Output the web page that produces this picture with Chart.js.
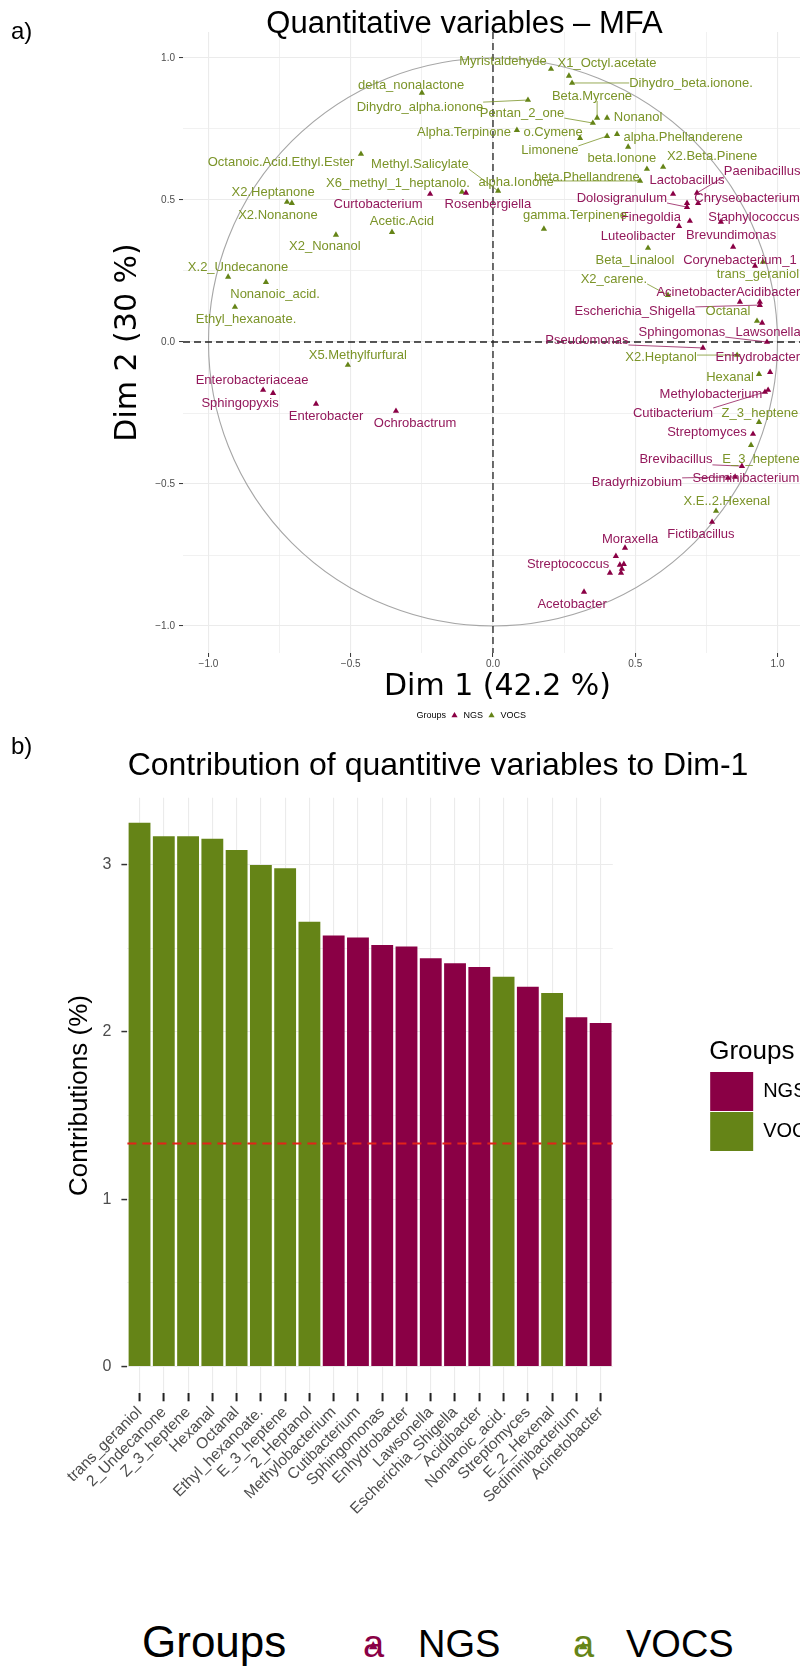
<!DOCTYPE html>
<html>
<head>
<meta charset="utf-8">
<script src="https://cdn.jsdelivr.net/npm/chart.js@4.4.1/dist/chart.umd.min.js"></script>
<style>
  html, body { margin:0; padding:0; background:#ffffff; }
  body { width:800px; height:1673px; overflow:hidden; position:relative; }
  canvas { position:absolute; left:0; }
  #cA { top:0; }
  #cB { top:740px; }
  .tag { position:absolute; left:11px; font-family:"Liberation Sans", Arial, sans-serif; font-size:24px; line-height:24px; color:#000; }
  .big { position:absolute; top:1625px; font-family:"Liberation Sans", Arial, sans-serif; font-size:38px; line-height:38px; color:#000; white-space:nowrap; }
  .tri { position:absolute; font-family:"DejaVu Sans", sans-serif; font-size:11px; line-height:11px; }
</style>
</head>
<body>
<canvas id="cA" width="929" height="730"></canvas>
<canvas id="cB" width="876" height="860"></canvas>
<div class="tag" style="top:19px">a)</div>
<div class="tag" style="top:734px">b)</div>
<div class="big" style="left:142px;top:1620px;font-size:44px;line-height:44px">Groups</div>
<div class="big" style="left:363px;color:#8A0045">a</div>
<div class="tri" style="left:369px;top:1639px;color:#8A0045">▲</div>
<div class="big" style="left:418px">NGS</div>
<div class="big" style="left:573px;color:#658417">a</div>
<div class="tri" style="left:579px;top:1639px;color:#658417">▲</div>
<div class="big" style="left:626px">VOCS</div>

<script>
// ---------------- DATA ----------------
// Panel a) : variable coordinates on Dim 1 / Dim 2 (MFA correlation circle)
const vocsNames = ['delta_nonalactone','Dihydro_alpha.ionone','Myristaldehyde','X1_Octyl.acetate','Dihydro_beta.ionone.','Beta.Myrcene','Pentan_2_one','Nonanol','Alpha.Terpinone','o.Cymene','Limonene','alpha.Phellanderene','beta.Ionone','X2.Beta.Pinene','beta.Phellandrene','Octanoic.Acid.Ethyl.Ester','Methyl.Salicylate','X6_methyl_1_heptanolo.','alpha.Ionone','X2.Heptanone','X2.Nonanone','Acetic.Acid','X2_Nonanol','gamma.Terpinene','Beta_Linalool','X.2_Undecanone','Nonanoic_acid.','Ethyl_hexanoate.','X2_carene.','trans_geraniol','Octanal','X5.Methylfurfural','X2.Heptanol','Hexanal','Z_3_heptene','E_3_heptene','X.E..2.Hexenal'];
const vocsDim1 = [-0.250,0.123,0.204,0.267,0.278,0.366,0.351,0.401,0.084,0.306,0.401,0.436,0.475,0.598,0.541,-0.464,0.018,-0.109,0.517,-0.724,-0.707,-0.355,-0.552,0.179,0.545,-0.931,-0.798,-0.907,0.615,0.949,0.928,-0.510,0.858,0.935,0.935,0.907,0.784];
const vocsDim2 = [0.877,0.852,0.961,0.937,0.912,0.789,0.771,0.789,0.746,0.718,0.725,0.732,0.687,0.616,0.609,0.662,0.532,0.528,0.567,0.493,0.489,0.387,0.377,0.398,0.331,0.229,0.211,0.123,0.165,0.282,0.074,-0.081,-0.046,-0.113,-0.282,-0.363,-0.595];
// repelled label anchors (data units)
const vocsLabelX = [-0.288,-0.257,0.035,0.401,0.696,0.348,0.102,0.510,-0.102,0.211,0.200,0.668,0.453,0.770,0.330,-0.745,-0.257,-0.334,0.081,-0.773,-0.756,-0.320,-0.591,0.288,0.499,-0.896,-0.766,-0.868,0.425,0.931,0.826,-0.475,0.591,0.833,0.938,0.942,0.822];
const vocsLabelY = [0.905,0.827,0.989,0.982,0.912,0.866,0.806,0.789,0.739,0.739,0.673,0.722,0.648,0.655,0.581,0.634,0.627,0.560,0.563,0.525,0.444,0.423,0.335,0.444,0.289,0.261,0.169,0.081,0.222,0.239,0.106,-0.046,-0.056,-0.123,-0.250,-0.415,-0.563];

const ngsNames = ['Curtobacterium','Rosenbergiella','Lactobacillus','Paenibacillus','Dolosigranulum','Chryseobacterium','Finegoldia','Staphylococcus','Luteolibacter','Brevundimonas','Corynebacterium_1','Acinetobacter','Acidibacter','Escherichia_Shigella','Sphingomonas','Lawsonella','Pseudomonas','Enhydrobacter','Methylobacterium','Cutibacterium','Streptomyces','Brevibacillus','Sediminibacterium','Bradyrhizobium','Fictibacillus','Moraxella','Streptococcus','Acetobacter','Enterobacteriaceae','Sphingopyxis','Enterobacter','Ochrobactrum','','','','','',''];
const ngsDim1 = [-0.221,-0.095,0.633,0.717,0.682,0.721,0.692,0.801,0.654,0.844,0.921,0.868,0.938,0.938,0.963,0.946,0.738,0.974,0.967,0.956,0.914,0.875,0.826,0.851,0.770,0.464,0.432,0.320,-0.808,-0.773,-0.622,-0.341,0.682,0.446,0.460,0.453,0.411,0.450];
const ngsDim2 = [0.521,0.525,0.521,0.525,0.475,0.489,0.426,0.423,0.408,0.335,0.268,0.141,0.141,0.130,0.000,0.067,-0.021,-0.106,-0.169,-0.176,-0.324,-0.437,-0.479,-0.475,-0.634,-0.725,-0.754,-0.880,-0.169,-0.180,-0.218,-0.243,0.489,-0.785,-0.782,-0.799,-0.813,-0.813];
const ngsLabelX = [-0.404,-0.018,0.682,0.946,0.453,0.893,0.555,0.917,0.510,0.837,0.868,0.714,0.967,0.499,0.664,0.967,0.330,0.931,0.766,0.633,0.752,0.643,0.889,0.506,0.731,0.482,0.264,0.278,-0.847,-0.889,-0.587,-0.274,null,null,null,null,null,null];
const ngsLabelY = [0.486,0.486,0.570,0.599,0.507,0.507,0.440,0.440,0.370,0.377,0.289,0.173,0.173,0.106,0.035,0.035,0.007,-0.056,-0.183,-0.250,-0.317,-0.415,-0.479,-0.496,-0.676,-0.694,-0.782,-0.923,-0.137,-0.218,-0.261,-0.285,null,null,null,null,null,null];

const dimTicks = [-1,-0.75,-0.5,-0.25,0,0.25,0.5,0.75,1];

// Panel b) : contributions to Dim-1
const contribLabels = ['trans_geraniol','2_Undecanone','Z_3_heptene','Hexanal','Octanal','Ethyl_hexanoate.','E_3_heptene','2_Heptanol','Methylobacterium','Cutibacterium','Sphingomonas','Enhydrobacter','Lawsonella','Escherichia_Shigella','Acidibacter','Nonanoic_acid.','Streptomyces','E_2_Hexenal','Sediminibacterium','Acinetobacter'];
const contribValues = [3.25,3.17,3.17,3.155,3.087,2.998,2.978,2.659,2.577,2.565,2.519,2.511,2.44,2.41,2.388,2.33,2.27,2.232,2.087,2.053];
const contribGroups = ['VOCS','VOCS','VOCS','VOCS','VOCS','VOCS','VOCS','VOCS','NGS','NGS','NGS','NGS','NGS','NGS','NGS','VOCS','NGS','VOCS','NGS','NGS'];
const contribTicks = [0,0.5,1,1.5,2,2.5,3];
const expectedContrib = 1.333;

// ---------------- STYLE ----------------
const FONT = '"Liberation Sans", Arial, sans-serif';
const NGS_COLOR = '#8A0045';
const VOCS_COLOR = '#658417';
const NGS_TEXT = '#93185b';
const VOCS_TEXT = '#7b9428';
const GRID = '#ebebeb';
const LABEL_FONT = '13px ' + FONT;

Chart.defaults.font.family = FONT;

const isHalf = v => Math.abs(v * 2 - Math.round(v * 2)) < 1e-6;
const isInt = v => Math.abs(v - Math.round(v)) < 1e-6;
const fmtDim = v => (v < -1e-9 ? '\u2212' : '') + Math.abs(v).toFixed(1);

function labelBoxes(chart) {
  const xs = chart.scales.x, ys = chart.scales.y, ctx = chart.ctx;
  ctx.save();
  ctx.font = LABEL_FONT;
  const out = [];
  [[ngsNames, ngsDim1, ngsDim2, ngsLabelX, ngsLabelY, NGS_TEXT],
   [vocsNames, vocsDim1, vocsDim2, vocsLabelX, vocsLabelY, VOCS_TEXT]].forEach(([names, d1, d2, lx, ly, col]) => {
    names.forEach((name, i) => {
      if (!name || lx[i] === null) return;
      out.push({
        name, col,
        px: xs.getPixelForValue(d1[i]), py: ys.getPixelForValue(d2[i]),
        cx: xs.getPixelForValue(lx[i]), cy: ys.getPixelForValue(ly[i]),
        w: ctx.measureText(name).width
      });
    });
  });
  ctx.restore();
  return out;
}

const mfaPlugin = {
  id: 'mfaDecor',
  beforeDatasetsDraw(chart) {
    const {ctx, chartArea: a, scales: {x, y}} = chart;
    ctx.save();
    ctx.beginPath();
    ctx.rect(a.left, a.top, a.right - a.left, a.bottom - a.top);
    ctx.clip();
    const cx = x.getPixelForValue(0), cy = y.getPixelForValue(0);
    const rx = x.getPixelForValue(1) - cx, ry = cy - y.getPixelForValue(1);
    ctx.strokeStyle = '#a6a6a6';
    ctx.lineWidth = 1.1;
    ctx.beginPath();
    ctx.ellipse(cx, cy, rx, ry, 0, 0, Math.PI * 2);
    ctx.stroke();
    ctx.setLineDash([7, 4]);
    ctx.strokeStyle = '#222';
    ctx.lineWidth = 1.3;
    ctx.beginPath();
    ctx.moveTo(a.left, cy); ctx.lineTo(a.right, cy);
    ctx.moveTo(cx, a.top); ctx.lineTo(cx, a.bottom);
    ctx.stroke();
    ctx.restore();
    // repel segments
    ctx.save();
    labelBoxes(chart).forEach(b => {
      const l = b.cx - b.w / 2, r = b.cx + b.w / 2, t = b.cy - 5, bo = b.cy + 5;
      const nx = Math.min(Math.max(b.px, l), r), ny = Math.min(Math.max(b.py, t), bo);
      if (Math.hypot(b.px - nx, b.py - ny) > 11) {
        ctx.strokeStyle = b.col;
        ctx.lineWidth = 0.8;
        ctx.beginPath();
        ctx.moveTo(nx, ny);
        ctx.lineTo(b.px, b.py);
        ctx.stroke();
      }
    });
    ctx.restore();
  },
  afterDatasetsDraw(chart) {
    const ctx = chart.ctx;
    ctx.save();
    ctx.font = LABEL_FONT;
    ctx.textAlign = 'center';
    ctx.textBaseline = 'middle';
    labelBoxes(chart).forEach(b => {
      ctx.fillStyle = b.col;
      ctx.fillText(b.name, b.cx, b.cy);
    });
    ctx.restore();
  }
};

const triPoints = (d1, d2) => d1.map((v, i) => ({x: v, y: d2[i]}));
const hiddenSpacer = (width, weight) => ({
  type: 'linear', position: 'right', min: 0, max: 1, display: true, weight,
  afterFit: s => { s.width = width; },
  border: {display: false},
  grid: {display: false, drawTicks: false},
  ticks: {display: false}
});

new Chart(document.getElementById('cA'), {
  type: 'scatter',
  data: {
    datasets: [
      {label: 'NGS', data: triPoints(ngsDim1, ngsDim2), pointStyle: 'triangle', pointRadius: 3.6, pointHoverRadius: 3.6,
       backgroundColor: NGS_COLOR, borderColor: NGS_COLOR, borderWidth: 0},
      {label: 'VOCS', data: triPoints(vocsDim1, vocsDim2), pointStyle: 'triangle', pointRadius: 3.6, pointHoverRadius: 3.6,
       backgroundColor: VOCS_COLOR, borderColor: VOCS_COLOR, borderWidth: 0}
    ]
  },
  options: {
    responsive: false, animation: false, events: [],
    layout: {padding: 0},
    plugins: {
      tooltip: {enabled: false},
      title: {display: true, text: 'Quantitative variables \u2013 MFA', color: '#000',
              font: {family: FONT, size: 31, weight: 'normal'}, padding: {top: 6, bottom: -11.2}},
      legend: {
        display: true, position: 'bottom',
        labels: {
          usePointStyle: true, boxHeight: 5, padding: 4, color: '#222',
          font: {family: FONT, size: 9},
          generateLabels: () => [
            {text: 'Groups', fillStyle: 'rgba(0,0,0,0)', strokeStyle: 'rgba(0,0,0,0)', lineWidth: 0, pointStyle: 'triangle', hidden: false},
            {text: 'NGS', fillStyle: NGS_COLOR, strokeStyle: NGS_COLOR, lineWidth: 0, pointStyle: 'triangle', hidden: false, datasetIndex: 0},
            {text: 'VOCS', fillStyle: VOCS_COLOR, strokeStyle: VOCS_COLOR, lineWidth: 0, pointStyle: 'triangle', hidden: false, datasetIndex: 1}
          ]
        }
      }
    },
    scales: {
      x: {
        type: 'linear', min: -1.0896, max: 1.1213,
        afterBuildTicks: s => { s.ticks = dimTicks.map(v => ({value: v})); },
        afterFit: s => { s.height = 54; },
        border: {display: false},
        grid: {color: GRID, lineWidth: c => isHalf(c.tick.value) ? 1.1 : 0.7, drawTicks: true, tickLength: 4,
               tickWidth: 1, tickColor: c => isHalf(c.tick.value) ? '#333' : 'rgba(0,0,0,0)'},
        ticks: {autoSkip: false, maxRotation: 0, padding: 1, color: '#4d4d4d', font: {family: FONT, size: 10},
                callback: v => isHalf(v) ? fmtDim(v) : ''},
        title: {display: true, text: 'Dim 1 (42.2 %)', color: '#000', font: {family: '"DejaVu Sans", sans-serif', size: 30},
                padding: {top: 0, bottom: 2}}
      },
      y: {
        type: 'linear', min: -1.095, max: 1.0915,
        afterBuildTicks: s => { s.ticks = dimTicks.map(v => ({value: v})); },
        afterFit: s => { s.width = 183; },
        border: {display: false},
        grid: {color: GRID, lineWidth: c => isHalf(c.tick.value) ? 1.1 : 0.7, drawTicks: true, tickLength: 4,
               tickWidth: 1, tickColor: c => isHalf(c.tick.value) ? '#333' : 'rgba(0,0,0,0)'},
        ticks: {autoSkip: false, padding: 4, color: '#4d4d4d', font: {family: FONT, size: 10},
                callback: v => isHalf(v) ? fmtDim(v) : ''},
        title: {display: true, text: 'Dim 2 (30 %)', color: '#000', font: {family: '"DejaVu Sans", sans-serif', size: 30},
                padding: {top: 110, bottom: 0}}
      },
      spacerA: hiddenSpacer(929 - 812, 0)
    }
  },
  plugins: [mfaPlugin]
});

// ---------------- Panel b ----------------
const W_B = 876;
const LEGEND_FONT = 20, LEGEND_BOX_W = 43, LEGEND_PAD = 1;
const measureCtx = document.createElement('canvas').getContext('2d');
measureCtx.font = LEGEND_FONT + 'px ' + FONT;
const legendTextW = Math.max(measureCtx.measureText('NGS').width, measureCtx.measureText('VOCS').width);
const legendW = LEGEND_PAD + LEGEND_BOX_W + LEGEND_FONT / 2 + legendTextW;
const legendLeft = 708, plotRight = 611.6, plotLeft = 127.4;
const outerRightB = W_B - legendLeft - legendW;

const refLinePlugin = {
  id: 'refLine',
  afterDatasetsDraw(chart) {
    const {ctx, chartArea: a, scales: {y}} = chart;
    const py = y.getPixelForValue(expectedContrib);
    ctx.save();
    ctx.strokeStyle = '#e2231a';
    ctx.lineWidth = 2;
    ctx.setLineDash([9, 6]);
    ctx.beginPath();
    ctx.moveTo(a.left, py);
    ctx.lineTo(a.right, py);
    ctx.stroke();
    ctx.restore();
  }
};

new Chart(document.getElementById('cB'), {
  type: 'bar',
  data: {
    labels: contribLabels,
    datasets: [
      {label: 'NGS', data: contribValues.map((v, i) => contribGroups[i] === 'NGS' ? v : null),
       backgroundColor: NGS_COLOR, borderColor: NGS_COLOR, borderWidth: 0, grouped: false, barPercentage: 0.9, categoryPercentage: 1.0},
      {label: 'VOCS', data: contribValues.map((v, i) => contribGroups[i] === 'VOCS' ? v : null),
       backgroundColor: VOCS_COLOR, borderColor: VOCS_COLOR, borderWidth: 0, grouped: false, barPercentage: 0.9, categoryPercentage: 1.0}
    ]
  },
  options: {
    responsive: false, animation: false, events: [],
    layout: {padding: 0},
    plugins: {
      tooltip: {enabled: false},
      title: {display: true, text: 'Contribution of quantitive variables to Dim-1', color: '#000',
              font: {family: FONT, size: 32, weight: 'normal'}, padding: {top: 7, bottom: 12.3}},
      legend: {
        display: true, position: 'right', fullSize: false, align: 'center',
        title: {display: true, text: 'Groups', position: 'start', color: '#000', font: {family: FONT, size: 26}, padding: {top: 0, bottom: 0.8}},
        labels: {boxWidth: LEGEND_BOX_W, boxHeight: 39, padding: LEGEND_PAD, color: '#000', font: {family: FONT, size: LEGEND_FONT}}
      }
    },
    scales: {
      x: {
        type: 'category', offset: true,
        afterFit: s => { s.height = 860 - 653.3; },
        border: {display: false},
        grid: {offset: false, color: GRID, lineWidth: 1.1, drawTicks: true, tickLength: 8, tickWidth: 2, tickColor: '#222'},
        ticks: {autoSkip: false, minRotation: 45, maxRotation: 45, padding: 2, color: '#4d4d4d', font: {family: FONT, size: 15.5}}
      },
      y: {
        type: 'linear', min: -0.16, max: 3.40,
        afterBuildTicks: s => { s.ticks = contribTicks.map(v => ({value: v})); },
        afterFit: s => { s.width = plotLeft; },
        border: {display: false},
        grid: {color: GRID, lineWidth: c => isInt(c.tick.value) ? 1.1 : 0.7, drawTicks: true, tickLength: 6, tickWidth: 1.5,
               tickColor: c => isInt(c.tick.value) ? '#333' : 'rgba(0,0,0,0)'},
        ticks: {autoSkip: false, padding: 10, color: '#4d4d4d', font: {family: FONT, size: 16},
                callback: v => isInt(v) ? String(Math.round(v)) : ''},
        title: {display: true, text: 'Contributions (%)', color: '#000', font: {family: FONT, size: 26}, padding: {top: 64.4, bottom: 0}}
      },
      spacerInner: hiddenSpacer(legendLeft - plotRight, 0),
      spacerOuter: hiddenSpacer(outerRightB, 2000)
    }
  },
  plugins: [refLinePlugin]
});
</script>
</body>
</html>
